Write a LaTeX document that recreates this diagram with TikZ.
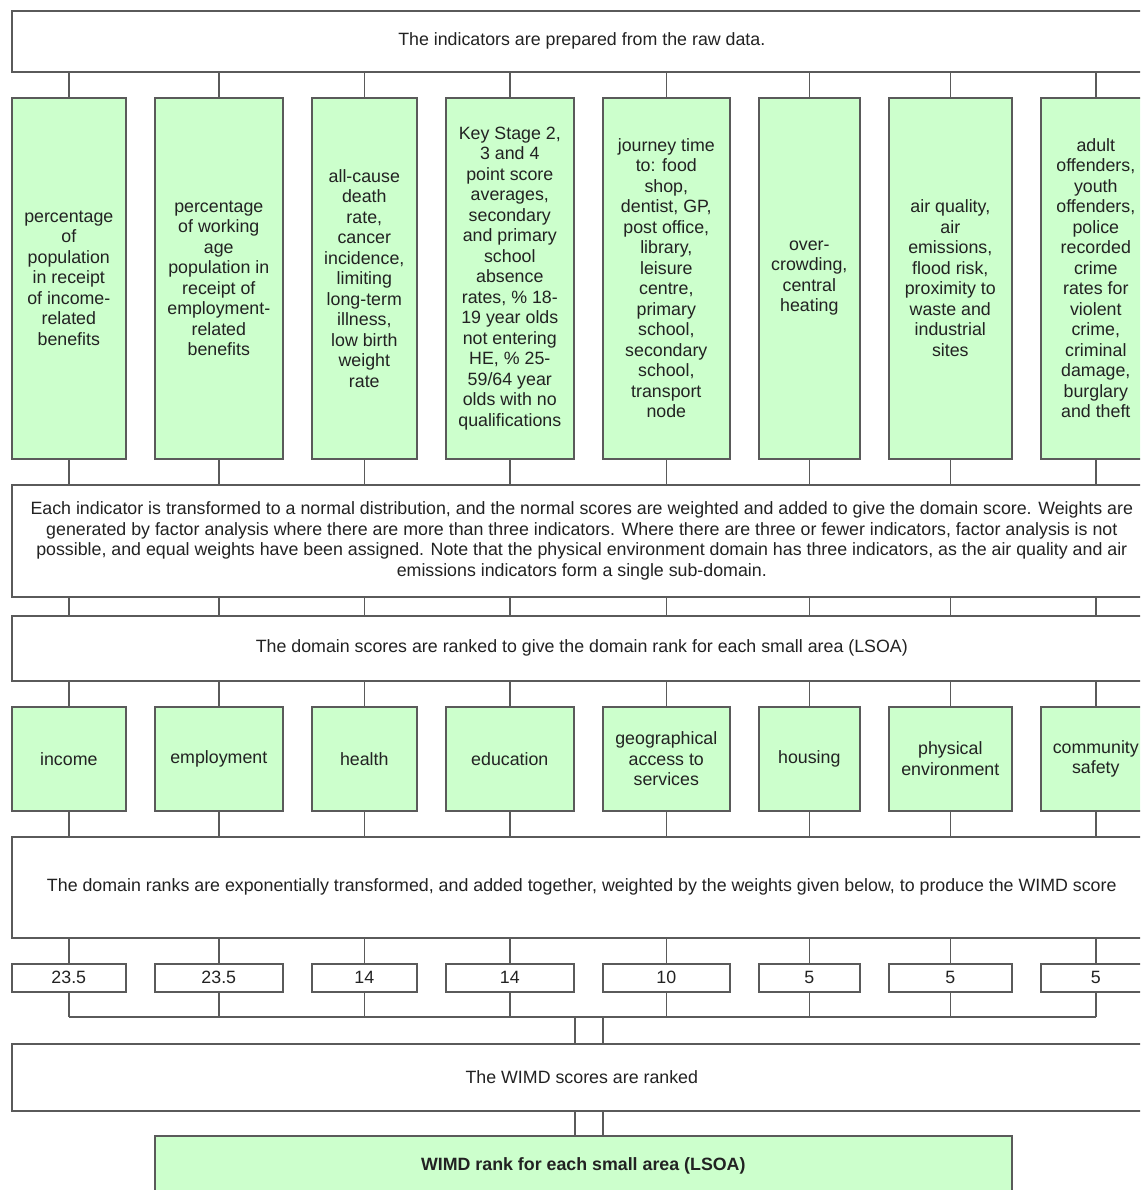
\documentclass[tikz,border=0pt]{standalone}
\usepackage{fontspec}
\setmainfont{Liberation Sans}
\definecolor{boxgreen}{HTML}{CCFFCC}
\definecolor{edge}{HTML}{5A5A5A}
\definecolor{ink}{HTML}{222222}
\begin{document}
\begin{tikzpicture}[x=1pt,y=-1pt,
  every node/.style={inner sep=0pt, anchor=north west, align=center, text=ink,
    font=\fontsize{17.8}{20.5}\selectfont},
  wbox/.style={draw=edge, line width=1.6pt, fill=white},
  gbox/.style={draw=edge, line width=1.6pt, fill=boxgreen},
  link/.style={draw=edge, line width=1.6pt}]
\clip (0,0) rectangle (1140,1190);

% full-width process boxes
\node[wbox, minimum width=1140pt, minimum height=61pt] (s1) at (11,10)
  {The indicators are prepared from the raw data.};
\node[wbox, minimum width=1140pt, minimum height=112pt] (s2) at (11,484)
  {Each indicator is transformed to a normal distribution, and the normal scores are weighted and added to give the domain score. Weights are\\
   generated by factor analysis where there are more than three indicators. Where there are three or fewer indicators, factor analysis is not\\
   possible, and equal weights have been assigned. Note that the physical environment domain has three indicators, as the air quality and air\\
   emissions indicators form a single sub-domain.};
\node[wbox, minimum width=1140pt, minimum height=65pt] (s3) at (11,615)
  {The domain scores are ranked to give the domain rank for each small area (LSOA)};
\node[wbox, minimum width=1140pt, minimum height=101pt] (s4) at (11,836)
  {The domain ranks are exponentially transformed, and added together, weighted by the weights given below, to produce the WIMD score};
\node[wbox, minimum width=1140pt, minimum height=67pt] (s5) at (11,1043)
  {The WIMD scores are ranked};

% indicator columns
\node[gbox, minimum width=114pt, minimum height=361pt] (c1) at (11,97)
  {percentage\\of\\population\\in receipt\\of income-\\related\\benefits};
\node[gbox, minimum width=128pt, minimum height=361pt] (c2) at (154,97)
  {percentage\\of working\\age\\population in\\receipt of\\employment-\\related\\benefits};
\node[gbox, minimum width=105pt, minimum height=361pt] (c3) at (311,97)
  {all-cause\\death\\rate,\\cancer\\incidence,\\limiting\\long-term\\illness,\\low birth\\weight\\rate};
\node[gbox, minimum width=128pt, minimum height=361pt] (c4) at (445,97)
  {Key Stage 2,\\3 and 4\\point score\\averages,\\secondary\\and primary\\school\\absence\\rates, \% 18-\\19 year olds\\not entering\\HE, \% 25-\\59/64 year\\olds with no\\qualifications};
\node[gbox, minimum width=127pt, minimum height=361pt] (c5) at (602,97)
  {journey time\\to: food\\shop,\\dentist, GP,\\post office,\\library,\\leisure\\centre,\\primary\\school,\\secondary\\school,\\transport\\node};
\node[gbox, minimum width=101pt, minimum height=361pt] (c6) at (758,97)
  {over-\\crowding,\\central\\heating};
\node[gbox, minimum width=123pt, minimum height=361pt] (c7) at (888,97)
  {air quality,\\air\\emissions,\\flood risk,\\proximity to\\waste and\\industrial\\sites};
\node[gbox, minimum width=110pt, minimum height=361pt] (c8) at (1040,97)
  {adult\\offenders,\\youth\\offenders,\\police\\recorded\\crime\\rates for\\violent\\crime,\\criminal\\damage,\\burglary\\and theft};

% domains
\node[gbox, minimum width=114pt, minimum height=104pt] (d1) at (11,706) {income};
\node[gbox, minimum width=128pt, minimum height=104pt] (d2) at (154,706) {employment};
\node[gbox, minimum width=105pt, minimum height=104pt] (d3) at (311,706) {health};
\node[gbox, minimum width=128pt, minimum height=104pt] (d4) at (445,706) {education};
\node[gbox, minimum width=127pt, minimum height=104pt] (d5) at (602,706) {geographical\\access to\\services};
\node[gbox, minimum width=101pt, minimum height=104pt] (d6) at (758,706) {housing};
\node[gbox, minimum width=123pt, minimum height=104pt] (d7) at (888,706) {physical\\environment};
\node[gbox, minimum width=110pt, minimum height=104pt] (d8) at (1040,706) {community\\safety};

% weights
\node[wbox, minimum width=114pt, minimum height=28pt] (w1) at (11,963) {23.5};
\node[wbox, minimum width=128pt, minimum height=28pt] (w2) at (154,963) {23.5};
\node[wbox, minimum width=105pt, minimum height=28pt] (w3) at (311,963) {14};
\node[wbox, minimum width=128pt, minimum height=28pt] (w4) at (445,963) {14};
\node[wbox, minimum width=127pt, minimum height=28pt] (w5) at (602,963) {10};
\node[wbox, minimum width=101pt, minimum height=28pt] (w6) at (758,963) {5};
\node[wbox, minimum width=123pt, minimum height=28pt] (w7) at (888,963) {5};
\node[wbox, minimum width=110pt, minimum height=28pt] (w8) at (1040,963) {5};

% result
\node[gbox, minimum width=857pt, minimum height=60pt, font=\fontsize{17.8}{20.5}\selectfont\bfseries] (res) at (154,1135)
  {WIMD rank for each small area (LSOA)};

% vertical links between the stages
\foreach \i in {1,...,8} {
  \draw[link] (c\i.north) -- (c\i.north |- s1.south);
  \draw[link] (c\i.south) -- (c\i.south |- s2.north);
  \draw[link] (d\i.north |- s2.south) -- (d\i.north |- s3.north);
  \draw[link] (d\i.north) -- (d\i.north |- s3.south);
  \draw[link] (d\i.south) -- (d\i.south |- s4.north);
  \draw[link] (w\i.north) -- (w\i.north |- s4.south);
}

% weighted sum bus
\coordinate (bus) at (0,1017);
\foreach \i in {1,...,8}
  \draw[link] (w\i.south) -- (w\i.south |- bus);
\draw[link] (w1.south |- bus) -- (w8.south |- bus);
\coordinate (jl) at (575,1017);
\coordinate (jr) at (603,1017);
\draw[link] (jl) -- (jl |- s5.north);
\draw[link] (jr) -- (jr |- s5.north);
\draw[link] (jl |- s5.south) -- (jl |- res.north);
\draw[link] (jr |- s5.south) -- (jr |- res.north);
\end{tikzpicture}
\end{document}
